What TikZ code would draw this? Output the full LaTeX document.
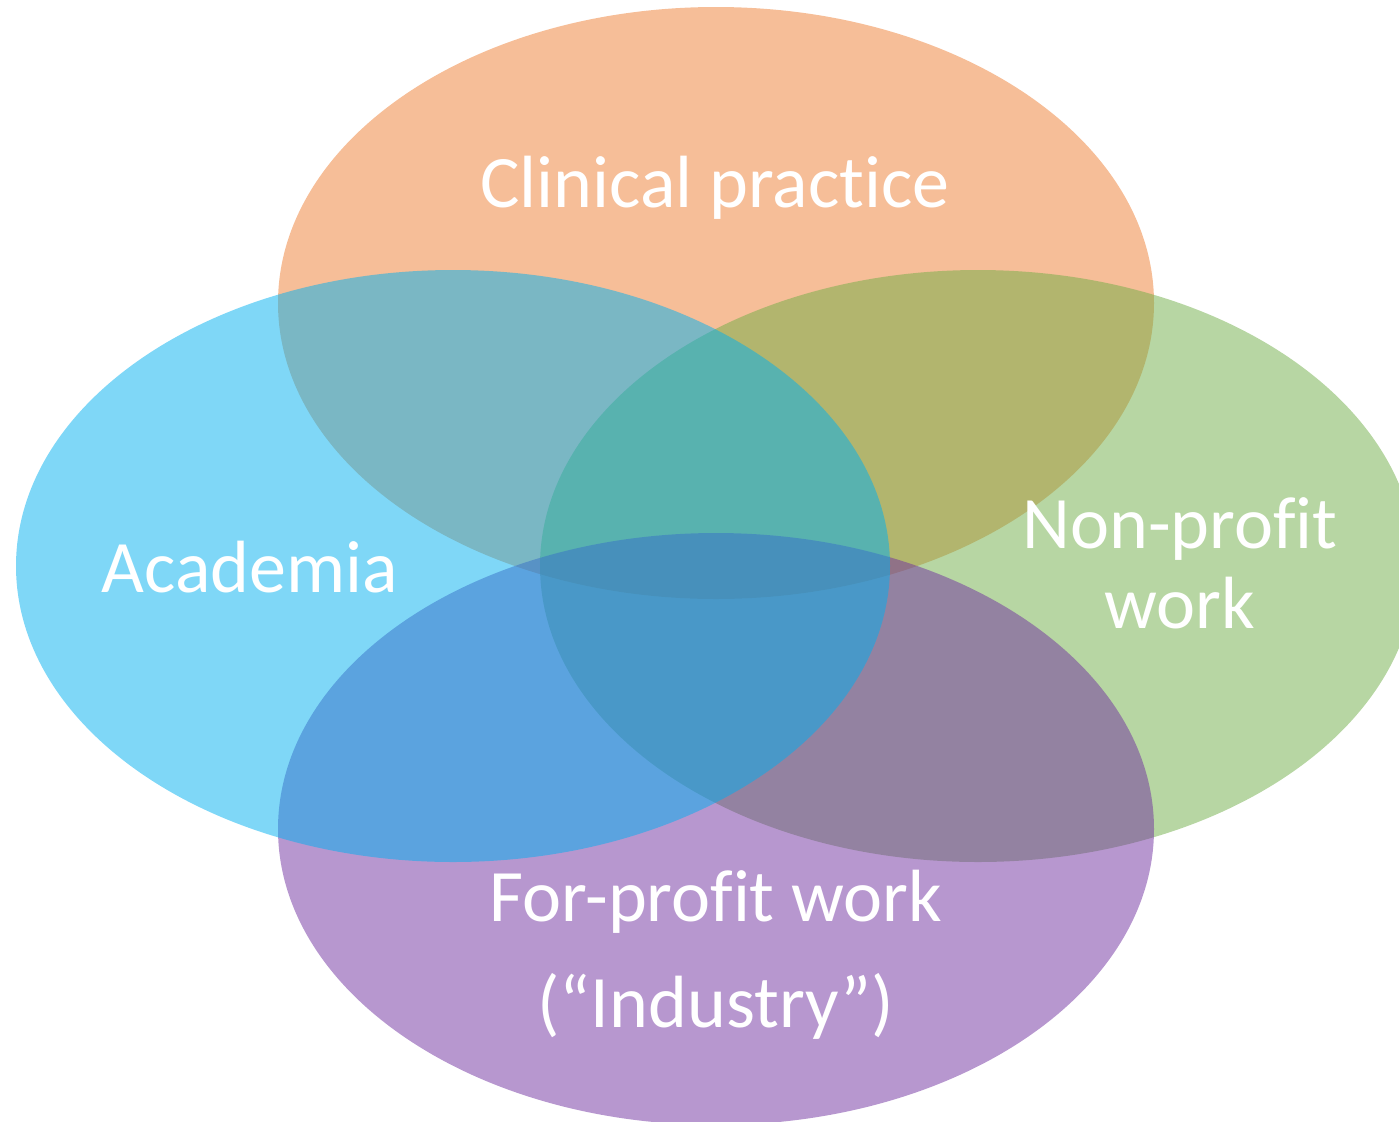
\documentclass[tikz,border=0pt]{standalone}
\usepackage{fontspec}
\setmainfont{Carlito}[Ligatures={NoCommon,NoRare}]
\definecolor{corange}{HTML}{ED7D31}
\definecolor{cblue}{HTML}{00B0F0}
\definecolor{cgreen}{HTML}{70AD47}
\definecolor{cpurple}{HTML}{7030A0}
\begin{document}
\begin{tikzpicture}[x=0.5pt,y=-0.5pt,
  blob/.style={fill opacity=0.5, draw=none},
  lbl/.style={text=white, inner sep=0pt, align=center, font=\fontsize{37}{40}\selectfont}]
\useasboundingbox (0,0) rectangle (1399,1121);
\begin{scope}
\clip (0,0) rectangle (1399,1121);
\fill[blob, corange] (716,303) ellipse [x radius=438, y radius=296];
\fill[blob, cgreen] (978,566) ellipse [x radius=438, y radius=296];
\fill[blob, cpurple] (716,829) ellipse [x radius=438, y radius=296];
\fill[blob, cblue] (453,566) ellipse [x radius=437, y radius=296];
\end{scope}
\node[lbl, anchor=base] (clin) at (715,207) {Clinical practice};
\node[lbl, anchor=base] (acad) at (250,592) {Academia};
\node[lbl, anchor=base] (nonp) at (1180,628) {Non-profit\\work};
\node[lbl, anchor=base] (forp) at (716,1027) {For-profit work\\[13pt](“Industry”)};
\end{tikzpicture}
\end{document}
